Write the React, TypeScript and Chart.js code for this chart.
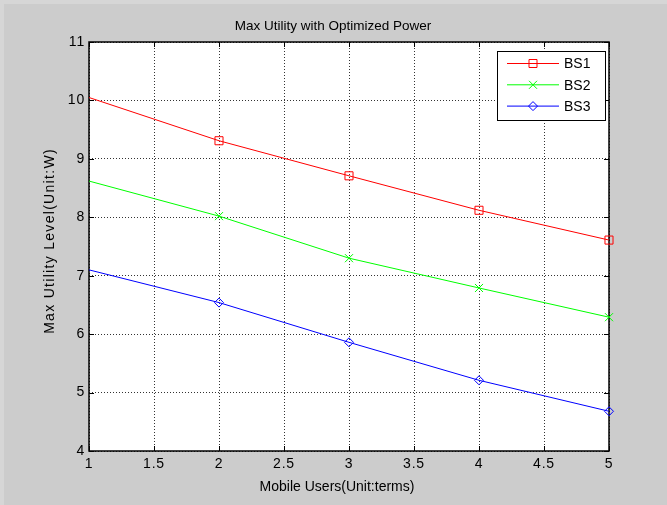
import React, { useEffect, useRef } from 'react';
import { Chart, registerables } from 'chart.js';

Chart.register(...registerables);

const xValues = [1, 2, 3, 4, 5];
const bs1 = [10.05, 9.31, 8.71, 8.12, 7.61];
const bs2 = [8.62, 8.02, 7.3, 6.79, 6.29];
const bs3 = [7.1, 6.54, 5.86, 5.21, 4.68];
const seriesLabels = ['BS1', 'BS2', 'BS3'];
const seriesColors = ['#ff0000', '#00ff00', '#0000ff'];
const seriesMarkers = ['rect', 'crossRot', 'rectRot'];
const markerShown = [false, true, true, true, true];
const xTicks = [1, 1.5, 2, 2.5, 3, 3.5, 4, 4.5, 5];
const yTicks = [4, 5, 6, 7, 8, 9, 10, 11];
const titleText = 'Max Utility with Optimized Power';
const xTitle = 'Mobile Users(Unit:terms)';
const yTitle = 'Max Utility Level(Unit:W)';

const FONT = '"Liberation Sans", Arial, Helvetica, sans-serif';

function drawMarker(ctx: CanvasRenderingContext2D, style: string, x: number, y: number, color: string) {
  ctx.save();
  ctx.strokeStyle = color;
  ctx.lineWidth = 1;
  ctx.beginPath();
  if (style === 'rect') {
    ctx.rect(x - 4, y - 4, 8, 8);
  } else if (style === 'crossRot') {
    ctx.moveTo(x - 4, y - 4);
    ctx.lineTo(x + 4, y + 4);
    ctx.moveTo(x + 4, y - 4);
    ctx.lineTo(x - 4, y + 4);
  } else {
    ctx.moveTo(x - 4.5, y);
    ctx.lineTo(x, y - 4.5);
    ctx.lineTo(x + 4.5, y);
    ctx.lineTo(x, y + 4.5);
    ctx.closePath();
  }
  ctx.stroke();
  ctx.restore();
}

const framePlugin = {
  id: 'matlabFrame',
  beforeDraw(chart: any) {
    const { ctx, chartArea: a, width, height } = chart;
    ctx.save();
    ctx.fillStyle = '#cccccc';
    ctx.fillRect(0, 0, width, height);
    ctx.fillStyle = '#d6d6d6';
    ctx.fillRect(0, 0, width, 4);
    ctx.fillRect(0, 0, 4, height);
    ctx.fillStyle = '#ffffff';
    ctx.fillRect(a.left, a.top, a.right - a.left, a.bottom - a.top);
    ctx.restore();
    (ctx as any).letterSpacing = '0.8px';
  },
  beforeDatasetsDraw(chart: any) {
    const { ctx, chartArea: a, scales } = chart;
    const xs = scales.x;
    const ys = scales.y;
    ctx.save();
    ctx.strokeStyle = '#000';
    ctx.lineWidth = 1;
    ctx.beginPath();
    xTicks.forEach((v) => {
      const px = Math.round(xs.getPixelForValue(v)) + 0.5;
      ctx.moveTo(px, a.bottom);
      ctx.lineTo(px, a.bottom - 5);
      ctx.moveTo(px, a.top);
      ctx.lineTo(px, a.top + 5);
    });
    yTicks.forEach((v) => {
      const py = Math.round(ys.getPixelForValue(v)) + 0.5;
      ctx.moveTo(a.left, py);
      ctx.lineTo(a.left + 5, py);
      ctx.moveTo(a.right, py);
      ctx.lineTo(a.right - 5, py);
    });
    ctx.stroke();
    ctx.lineWidth = 1.5;
    ctx.strokeRect(a.left, a.top, a.right - a.left, a.bottom - a.top);
    ctx.restore();
  },
  afterDraw(chart: any) {
    const { ctx, chartArea: a } = chart;
    ctx.save();
    (ctx as any).letterSpacing = '0px';
    ctx.fillStyle = '#000';
    ctx.textBaseline = 'middle';
    ctx.textAlign = 'center';
    ctx.font = `13.5px ${FONT}`;
    ctx.fillText(titleText, 333, 26);
    ctx.font = `14px ${FONT}`;
    ctx.fillText(xTitle, 337, 487);
    ctx.save();
    (ctx as any).letterSpacing = '1.3px';
    ctx.translate(50, 241);
    ctx.rotate(-Math.PI / 2);
    ctx.fillText(yTitle, 0, 0);
    ctx.restore();

    const boxW = 108;
    const boxH = 69;
    const bx = a.right - 4 - boxW;
    const by = a.top + 9;
    ctx.fillStyle = '#ffffff';
    ctx.fillRect(bx, by, boxW, boxH);
    ctx.strokeStyle = '#000';
    ctx.lineWidth = 1;
    ctx.strokeRect(bx + 0.5, by + 0.5, boxW, boxH);
    chart.data.datasets.forEach((ds: any, i: number) => {
      const ry = by + 12.5 + i * 21.3;
      ctx.strokeStyle = ds.borderColor;
      ctx.lineWidth = 1;
      ctx.beginPath();
      ctx.moveTo(bx + 10, ry);
      ctx.lineTo(bx + 62, ry);
      ctx.stroke();
      drawMarker(ctx, seriesMarkers[i], bx + 36, ry, ds.borderColor);
      ctx.fillStyle = '#000';
      ctx.font = `14px ${FONT}`;
      ctx.textBaseline = 'middle';
      ctx.textAlign = 'left';
      ctx.fillText(ds.label, bx + 67, ry + 1);
    });
    ctx.restore();
  },
};

export default function App() {
  const ref = useRef<HTMLCanvasElement | null>(null);

  useEffect(() => {
    document.body.style.margin = '0';
    const canvas = ref.current;
    if (!canvas) return;
    const seriesData = [bs1, bs2, bs3];
    const chart = new Chart(canvas, {
      type: 'line',
      data: {
        datasets: seriesData.map((vals, i) => ({
          label: seriesLabels[i],
          data: xValues.map((x, j) => ({ x, y: vals[j] })),
          borderColor: seriesColors[i],
          backgroundColor: 'transparent',
          borderWidth: 1,
          pointStyle: seriesMarkers[i],
          pointRadius: markerShown.map((s) => (s ? (seriesMarkers[i] === 'rectRot' ? 4.5 : 5.7) : 0)),
          pointBorderColor: seriesColors[i],
          pointBackgroundColor: 'transparent',
          pointBorderWidth: 1,
          tension: 0,
          fill: false,
          clip: false as any,
        })),
      },
      options: {
        responsive: false,
        animation: false,
        events: [],
        layout: { padding: { left: 0, right: 58, top: 42, bottom: 0 } },
        plugins: {
          legend: { display: false },
          tooltip: { enabled: false },
          title: { display: false },
        },
        scales: {
          x: {
            type: 'linear',
            min: 1,
            max: 5,
            afterBuildTicks: (s: any) => {
              s.ticks = xTicks.map((v) => ({ value: v }));
            },
            afterFit: (s: any) => {
              s.height = 54;
            },
            grid: { color: '#333333', lineWidth: 1, drawTicks: false },
            border: { display: false, dash: [1, 2] },
            ticks: {
              color: '#000',
              padding: 5,
              maxRotation: 0,
              autoSkip: false,
              font: { family: FONT, size: 14 },
              callback: (v: any) => String(v),
            },
            title: { display: false },
          },
          y: {
            type: 'linear',
            min: 4,
            max: 11,
            afterBuildTicks: (s: any) => {
              s.ticks = yTicks.map((v) => ({ value: v }));
            },
            afterFit: (s: any) => {
              s.width = 89;
            },
            grid: { color: '#333333', lineWidth: 1, drawTicks: false },
            border: { display: false, dash: [1, 2] },
            ticks: {
              color: '#000',
              padding: 4,
              autoSkip: false,
              font: { family: FONT, size: 14 },
              callback: (v: any) => String(v),
            },
            title: { display: false },
          },
        },
      },
      plugins: [framePlugin],
    });
    return () => chart.destroy();
  }, []);

  return (
    <div style={{ width: 667, height: 505 }}>
      <canvas ref={ref} width={667} height={505} style={{ display: 'block' }} />
    </div>
  );
}
